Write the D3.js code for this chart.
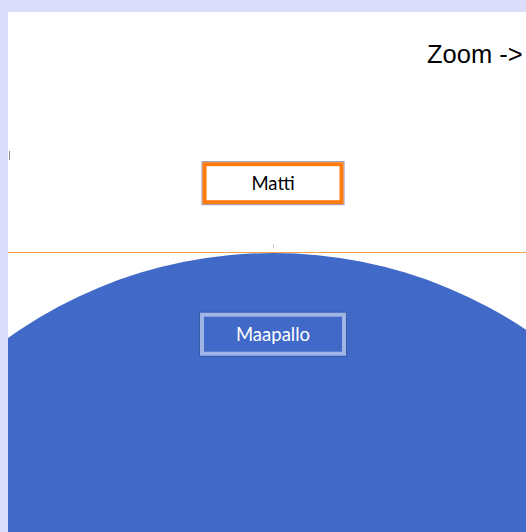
<!DOCTYPE html>
<html>
<head>
<meta charset="utf-8">
<style>
  body { margin: 0; background: #dcdcfb; }
  svg { display: block; }
  .label { font-family: Lato, 'Noto Sans', sans-serif; font-size: 18.5px; }
  .zoom { font-family: 'Liberation Sans', Arial, sans-serif; font-size: 25.5px; }
</style>
</head>
<body>
<svg width="526" height="532"></svg>
<script src="https://d3js.org/d3.v7.min.js"></script>
<script>
  // labels and sizes in the picture
  let names = ["Matti", "Maapallo"];
  let zoomText = "Zoom ->";
  // label heights above/below ground level, in "units"
  let levels = [0.92, -1.07]; // Matti above ground, Maapallo below
  let earthRadius = 6.0;

  let width = 526, height = 532;
  let svg = d3.select("svg");

  // panel
  svg.append("rect").attr("x", 0).attr("y", 0).attr("width", width).attr("height", height).attr("fill", "#dcdcfb");
  svg.append("rect").attr("x", 8).attr("y", 12).attr("width", width - 8).attr("height", height - 12).attr("fill", "#fff");

  svg.append("clipPath").attr("id", "clip")
    .append("rect").attr("x", 8).attr("y", 12).attr("width", width - 8).attr("height", height - 12);

  // one unit ~ 75.9px, ground at y=253
  let y = d3.scaleLinear().domain([0, 1]).range([253, 253 - 75.9]);
  let r = d3.scaleLinear().domain([0, 1]).range([0, 75.9]);
  let cx = 273;

  let g = svg.append("g").attr("clip-path", "url(#clip)");

  // the earth
  g.append("circle")
    .attr("cx", cx)
    .attr("cy", y(-earthRadius))
    .attr("r", r(earthRadius))
    .attr("fill", "#4169c8");

  // horizon line
  g.append("line")
    .attr("x1", 8).attr("x2", width)
    .attr("y1", y(0) - 0.5).attr("y2", y(0) - 0.5)
    .attr("stroke", "#f7a04a").attr("stroke-width", 1);

  // small ticks
  g.append("line").attr("x1", 273.5).attr("x2", 273.5).attr("y1", 244).attr("y2", 248)
    .attr("stroke", "#ccc").attr("stroke-width", 1);
  g.append("line").attr("x1", 9.5).attr("x2", 9.5).attr("y1", 151).attr("y2", 160)
    .attr("stroke", "#888").attr("stroke-width", 1);

  // boxes
  let boxes = [
    { name: names[0], level: levels[0], w: 142, h: 43, fill: "#fff", stroke: "#ff7b0f", outline: "#8b94b8", text: "#000" },
    { name: names[1], level: levels[1], w: 147, h: 44, fill: "#4169c8", stroke: "#a0b4e6", outline: "#3a5aa8", text: "#fff" }
  ];

  let box = g.selectAll("g.box").data(boxes).join("g").attr("class", "box")
    .attr("transform", d => `translate(${cx},${y(d.level)})`);

  box.append("rect")
    .attr("x", d => -d.w / 2).attr("y", d => -d.h / 2)
    .attr("width", d => d.w).attr("height", d => d.h)
    .attr("fill", "none").attr("stroke", d => d.outline).attr("stroke-width", 1);
  box.append("rect")
    .attr("x", d => -d.w / 2 + 2.5).attr("y", d => -d.h / 2 + 2.5)
    .attr("width", d => d.w - 5).attr("height", d => d.h - 5)
    .attr("fill", d => d.fill).attr("stroke", d => d.stroke).attr("stroke-width", 4);

  box.append("text")
    .attr("class", "label")
    .attr("text-anchor", "middle")
    .attr("dy", "0.35em")
    .attr("fill", d => d.text)
    .text(d => d.name);

  svg.append("text")
    .attr("class", "zoom")
    .attr("x", 427)
    .attr("y", 63)
    .text(zoomText);
</script>
</body>
</html>
